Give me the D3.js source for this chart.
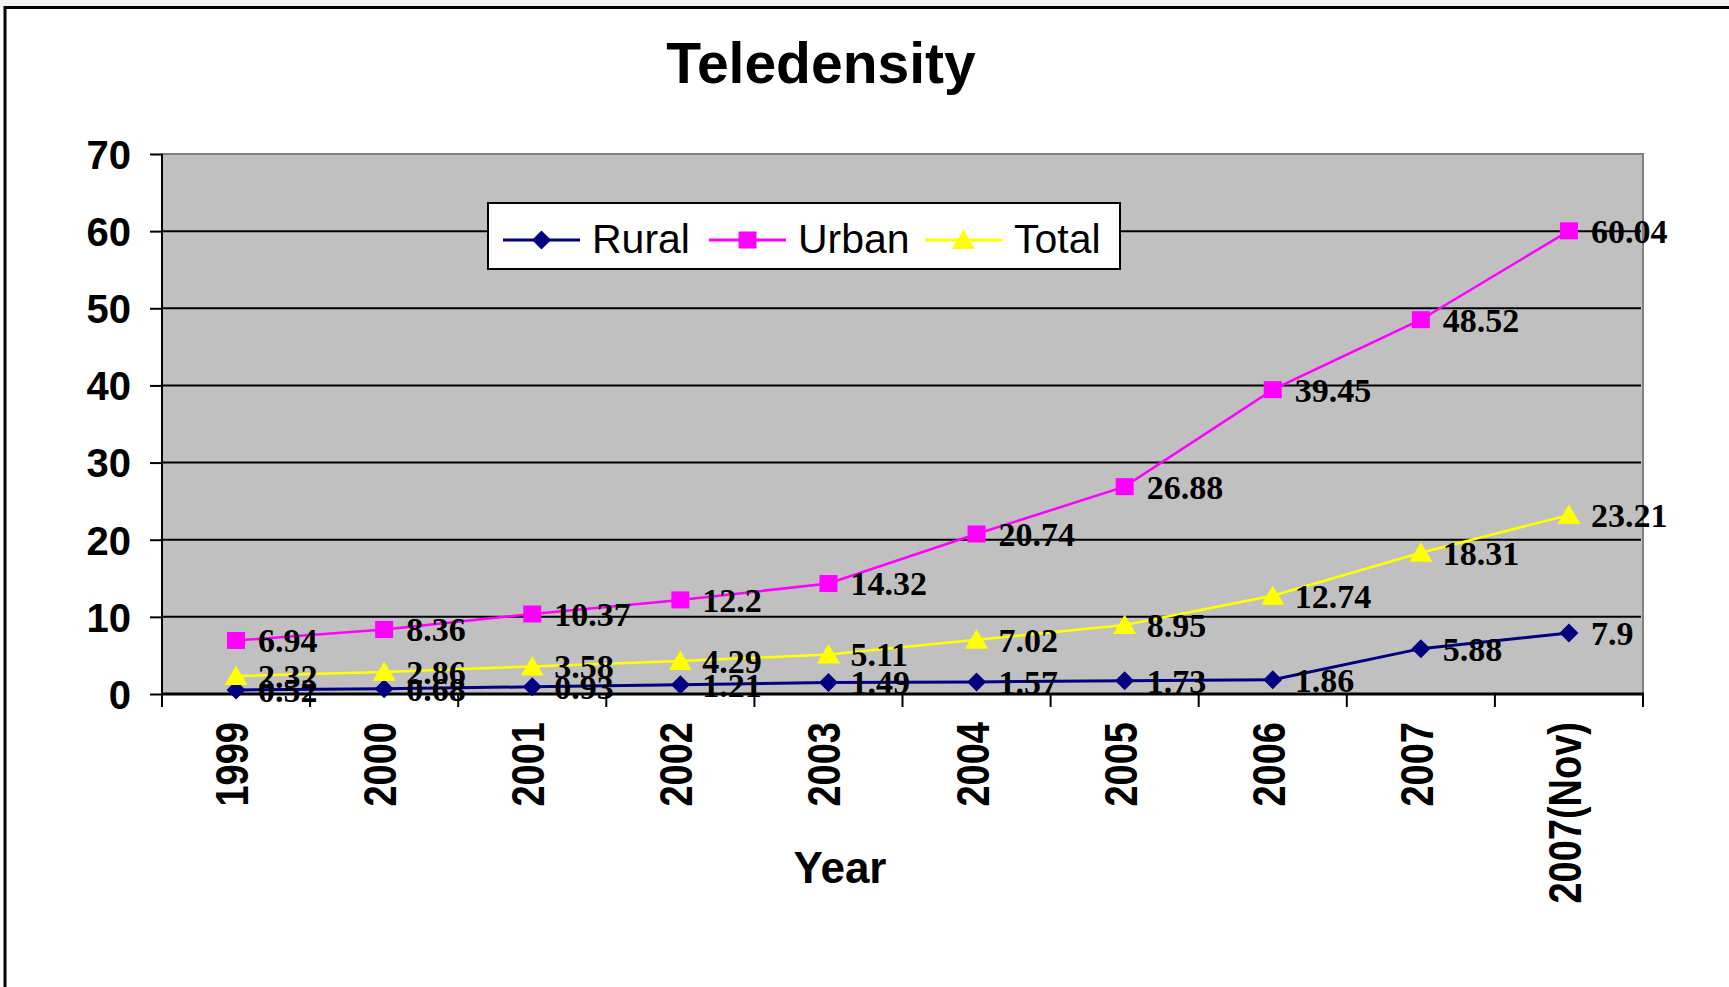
<!DOCTYPE html>
<html>
<head>
<meta charset="utf-8">
<script src="https://cdn.jsdelivr.net/npm/d3@7"></script>
<style>
	body { margin: 0; background: #ffffff; }
</style>
</head>
<body>
<div id="chart"></div>
<script>
'use strict';

/***************************Chart data***********************************/

var years = ["1999", "2000", "2001", "2002", "2003", "2004", "2005", "2006", "2007", "2007(Nov)"];
var rural = [0.52, 0.68, 0.93, 1.21, 1.49, 1.57, 1.73, 1.86, 5.88, 7.9];
var urban = [6.94, 8.36, 10.37, 12.2, 14.32, 20.74, 26.88, 39.45, 48.52, 60.04];
var total = [2.32, 2.86, 3.58, 4.29, 5.11, 7.02, 8.95, 12.74, 18.31, 23.21];
var yTicks = [0, 10, 20, 30, 40, 50, 60, 70];
var seriesNames = ["Rural", "Urban", "Total"];

/*************************Chart dimensions*******************************/

var width = 1729;
var height = 987;
var plotLeft = 162;
var plotRight = 1643;
var plotTop = 154;
var plotBottom = 694;

var series = [
	{ name: seriesNames[0], values: rural, color: "#000080", marker: "diamond", lineWidth: 3 },
	{ name: seriesNames[1], values: urban, color: "#ff00ff", marker: "square", lineWidth: 2.5 },
	{ name: seriesNames[2], values: total, color: "#ffff00", marker: "triangle", lineWidth: 2.5 }
];

var markerPath = function(type) {
	switch (type) {
		case "diamond" :
			return "M0,-9.5L9.5,0L0,9.5L-9.5,0Z";
		case "square" :
			return "M-9,-8.5H9V8.5H-9Z";
		case "triangle" :
			return "M0,-10.5L11.5,9L-11.5,9Z";
		default:
			return "";
	}
};

var svg = d3.select("#chart").append("svg")
	.attr("width", width)
	.attr("height", height)
	.style("display", "block");

var x = d3.scaleBand().domain(years).range([plotLeft, plotRight]);
var y = d3.scaleLinear().domain([0, 70]).range([plotBottom, plotTop]);

/*************************Frame and title*******************************/

svg.append("rect")
	.attr("x", 0).attr("y", 0).attr("width", width).attr("height", 7)
	.style("fill", "#f3f2ef");

svg.append("rect")
	.attr("x", 5).attr("y", 7.5).attr("width", width + 20).attr("height", height + 20)
	.style("fill", "#ffffff")
	.style("stroke", "#000000")
	.style("stroke-width", 3);

svg.append("text")
	.attr("x", 821).attr("y", 83)
	.attr("text-anchor", "middle")
	.style("font-family", "Arial, 'Liberation Sans', sans-serif")
	.style("font-weight", "bold")
	.style("font-size", "57px")
	.text("Teledensity");

/*************************Plot area**************************************/

svg.append("rect")
	.attr("x", plotLeft).attr("y", plotTop)
	.attr("width", plotRight - plotLeft).attr("height", plotBottom - plotTop)
	.style("fill", "#c0c0c0")
	.style("stroke", "#808080")
	.style("stroke-width", 2);

svg.append("g").attr("class", "grid")
	.selectAll("line")
	.data(yTicks.filter(function(d) { return d > 0 && d < 70; }))
	.enter().append("line")
	.attr("x1", plotLeft).attr("x2", plotRight - 2)
	.attr("y1", function(d) { return y(d); })
	.attr("y2", function(d) { return y(d); })
	.style("stroke", "#000000")
	.style("stroke-width", 2);

/*************************Axes*******************************************/

var yAxis = svg.append("g")
	.attr("transform", "translate(" + plotLeft + ",0)")
	.call(d3.axisLeft(y).tickValues(yTicks).tickSize(12).tickPadding(19));

yAxis.select(".domain").style("stroke-width", 2).attr("d", "M0," + plotTop + "V" + plotBottom);
yAxis.selectAll(".tick line").style("stroke-width", 2);
yAxis.selectAll(".tick text")
	.style("font-family", "Arial, 'Liberation Sans', sans-serif")
	.style("font-weight", "bold")
	.style("font-size", "40px")
	.attr("dy", "0.36em");

var xTickPos = years.map(function(d) { return x(d); }).concat([plotRight]);

svg.append("g").attr("class", "xticks")
	.selectAll("line")
	.data(xTickPos)
	.enter().append("line")
	.attr("x1", function(d) { return d; })
	.attr("x2", function(d) { return d; })
	.attr("y1", plotBottom).attr("y2", plotBottom + 13)
	.style("stroke", "#000000")
	.style("stroke-width", 2);

svg.append("line")
	.attr("x1", plotLeft - 1).attr("x2", plotRight + 1)
	.attr("y1", plotBottom).attr("y2", plotBottom)
	.style("stroke", "#000000")
	.style("stroke-width", 3);

svg.append("g").attr("class", "xlabels")
	.selectAll("text")
	.data(years)
	.enter().append("text")
	.attr("transform", function(d) {
		return "translate(" + (x(d) + x.bandwidth() / 2) + ",722) rotate(-90) scale(1,1.2)";
	})
	.attr("text-anchor", "end")
	.attr("dy", 10)
	.style("font-family", "Arial, 'Liberation Sans', sans-serif")
	.style("font-weight", "bold")
	.style("font-size", "38px")
	.text(function(d) { return d; });

svg.append("text")
	.attr("x", 840).attr("y", 883)
	.attr("text-anchor", "middle")
	.style("font-family", "Arial, 'Liberation Sans', sans-serif")
	.style("font-weight", "bold")
	.style("font-size", "44px")
	.text("Year");

/*************************Series lines and markers************************/

var line = d3.line()
	.x(function(d, i) { return x(years[i]) + x.bandwidth() / 2; })
	.y(function(d) { return y(d); });

series.forEach(function(s) {
	var g = svg.append("g").attr("class", "series");

	g.append("path")
		.attr("d", line(s.values))
		.style("fill", "none")
		.style("stroke", s.color)
		.style("stroke-width", s.lineWidth);

	g.selectAll(".marker")
		.data(s.values)
		.enter().append("path")
		.attr("class", "marker")
		.attr("d", markerPath(s.marker))
		.attr("transform", function(d, i) {
			return "translate(" + (x(years[i]) + x.bandwidth() / 2) + "," + y(d) + ")";
		})
		.style("fill", s.color);
});

/*************************Data labels**************************************/

series.forEach(function(s) {
	svg.append("g").attr("class", "labels")
		.selectAll("text")
		.data(s.values)
		.enter().append("text")
		.attr("x", function(d, i) { return x(years[i]) + x.bandwidth() / 2 + 22; })
		.attr("y", function(d) { return y(d); })
		.attr("dy", "0.35em")
		.style("font-family", "'Times New Roman', 'Liberation Serif', serif")
		.style("font-weight", "bold")
		.style("font-size", "34px")
		.text(function(d) { return d; });
});

/*************************Legend*******************************************/

var legend = svg.append("g").attr("class", "legend");

legend.append("rect")
	.attr("x", 488).attr("y", 203).attr("width", 632).attr("height", 66)
	.style("fill", "#ffffff")
	.style("stroke", "#000000")
	.style("stroke-width", 2);

var legendX = [503, 709, 925];

series.forEach(function(s, i) {
	var item = legend.append("g").attr("transform", "translate(" + legendX[i] + ",240)");

	item.append("line")
		.attr("x1", 0).attr("x2", 77)
		.style("stroke", s.color)
		.style("stroke-width", 3);

	item.append("path")
		.attr("d", markerPath(s.marker))
		.attr("transform", "translate(38.5,0)")
		.style("fill", s.color);

	item.append("text")
		.attr("x", 89).attr("y", 13)
		.style("font-family", "Arial, 'Liberation Sans', sans-serif")
		.style("font-size", "41px")
		.text(s.name);
});
</script>
</body>
</html>
